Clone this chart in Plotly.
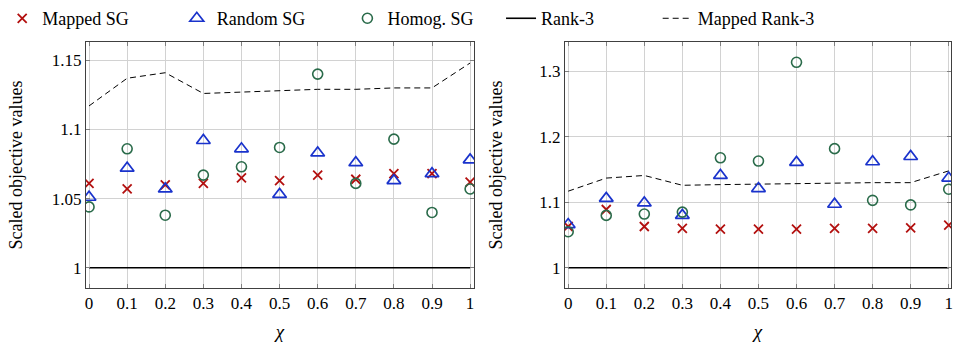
import plotly.graph_objects as go

chi = [0, 0.1, 0.2, 0.3, 0.4, 0.5, 0.6, 0.7, 0.8, 0.9, 1.0]
tick_text = ["0", "0.1", "0.2", "0.3", "0.4", "0.5", "0.6", "0.7", "0.8", "0.9", "1"]

# Left panel
left_mapped_sg = [1.061, 1.057, 1.060, 1.061, 1.065, 1.063, 1.067, 1.064, 1.068, 1.068, 1.062]
left_random_sg = [1.051, 1.072, 1.057, 1.092, 1.086, 1.053, 1.083, 1.076, 1.063, 1.068, 1.078]
left_homog_sg = [1.044, 1.086, 1.038, 1.067, 1.073, 1.087, 1.140, 1.061, 1.093, 1.040, 1.057]

# Right panel
right_mapped_sg = [1.063, 1.089, 1.063, 1.060, 1.059, 1.059, 1.059, 1.060, 1.060, 1.061, 1.065]
right_random_sg = [1.066, 1.106, 1.099, 1.080, 1.141, 1.121, 1.161, 1.097, 1.162, 1.170, 1.137]
right_homog_sg = [1.055, 1.080, 1.082, 1.085, 1.168, 1.163, 1.314, 1.182, 1.103, 1.096, 1.120]

# Shared reference lines
rank3 = [1.0] * 11
mapped_rank3 = [1.117, 1.137, 1.141, 1.126, 1.127, 1.128, 1.129, 1.129, 1.130, 1.130, 1.148]

RED = "#b3100f"
BLUE = "#1a33cc"
GREEN = "#2a6b4a"
FONT = "Liberation Serif"
FS = 17

fig = go.Figure()

panels = [
    ("x", "y", left_mapped_sg, left_random_sg, left_homog_sg, True),
    ("x2", "y2", right_mapped_sg, right_random_sg, right_homog_sg, False),
]

for xa, ya, m, r, h, show in panels:
    fig.add_trace(go.Scatter(x=chi, y=rank3, mode="lines", name="Rank-3",
                             line=dict(color="black", width=1.6),
                             xaxis=xa, yaxis=ya, showlegend=show, legend="legend4"))
    fig.add_trace(go.Scatter(x=chi, y=mapped_rank3, mode="lines", name="Mapped Rank-3",
                             line=dict(color="black", width=1, dash="6px,4px"),
                             xaxis=xa, yaxis=ya, showlegend=show, legend="legend5"))
    fig.add_trace(go.Scatter(x=chi, y=m, mode="markers", name="Mapped SG",
                             marker=dict(symbol="x-thin-open", size=9, color=RED,
                                         line=dict(color=RED, width=1.8)),
                             xaxis=xa, yaxis=ya, showlegend=show, legend="legend"))
    fig.add_trace(go.Scatter(x=chi, y=r, mode="markers", name="Random SG",
                             marker=dict(symbol="triangle-up-open", size=12, color=BLUE,
                                         line=dict(color=BLUE, width=1.7)),
                             xaxis=xa, yaxis=ya, showlegend=show, legend="legend2"))
    fig.add_trace(go.Scatter(x=chi, y=h, mode="markers", name="Homog. SG",
                             marker=dict(symbol="circle-open", size=10, color=GREEN,
                                         line=dict(color=GREEN, width=1.6)),
                             xaxis=xa, yaxis=ya, showlegend=show, legend="legend3"))

W, H = 953, 343
ML, MR, MT, MB = 86, 0, 36, 55
PW = W - ML - MR
PH = H - MT - MB

def px(xpix):
    return (xpix - ML) / PW

axis_common = dict(
    showline=True, linecolor="#404040", linewidth=1, mirror="ticks",
    ticks="inside", ticklen=4, tickcolor="#808080",
    showgrid=True, gridcolor="#d2d2d2", gridwidth=1,
    zeroline=False, tickfont=dict(family=FONT, size=FS, color="black"),
)

xcommon = dict(axis_common, tickvals=chi, ticktext=tick_text, ticklabeloverflow="allow",
               title=dict(text="<i>χ</i>", font=dict(family=FONT, size=FS + 2, color="black"),
                          standoff=12))

leg_common = dict(orientation="h", yanchor="middle", y=1 + (MT - 12) / PH, xanchor="left",
                  font=dict(family=FONT, size=FS + 1, color="black"),
                  bgcolor="rgba(0,0,0,0)", borderwidth=0)

fig.update_layout(
    width=W, height=H,
    margin=dict(l=ML, r=MR, t=MT, b=MB),
    plot_bgcolor="white", paper_bgcolor="white",
    font=dict(family=FONT, size=FS, color="black"),
    xaxis=dict(xcommon, domain=[0, px(475)], range=[-0.008, 1.0105], anchor="y"),
    yaxis=dict(axis_common, domain=[0, 1], range=[0.9854, 1.1632], anchor="x",
               tickvals=[1, 1.05, 1.1, 1.15], ticktext=["1", "1.05", "1.1", "1.15"],
               title=dict(text="Scaled objective values",
                          font=dict(family=FONT, size=FS + 1, color="black"), standoff=24)),
    xaxis2=dict(xcommon, domain=[px(566), 1], range=[-0.0087, 1.006], anchor="y2"),
    yaxis2=dict(axis_common, domain=[0, 1], range=[0.969, 1.345], anchor="x2",
                tickvals=[1, 1.1, 1.2, 1.3], ticktext=["1", "1.1", "1.2", "1.3"],
                title=dict(text="Scaled objective values",
                           font=dict(family=FONT, size=FS + 1, color="black"), standoff=31)),
    legend=dict(leg_common, x=px(2)),
    legend2=dict(leg_common, x=px(177)),
    legend3=dict(leg_common, x=px(348)),
    legend4=dict(leg_common, x=px(502)),
    legend5=dict(leg_common, x=px(659)),
)

fig.write_html("out.html")
